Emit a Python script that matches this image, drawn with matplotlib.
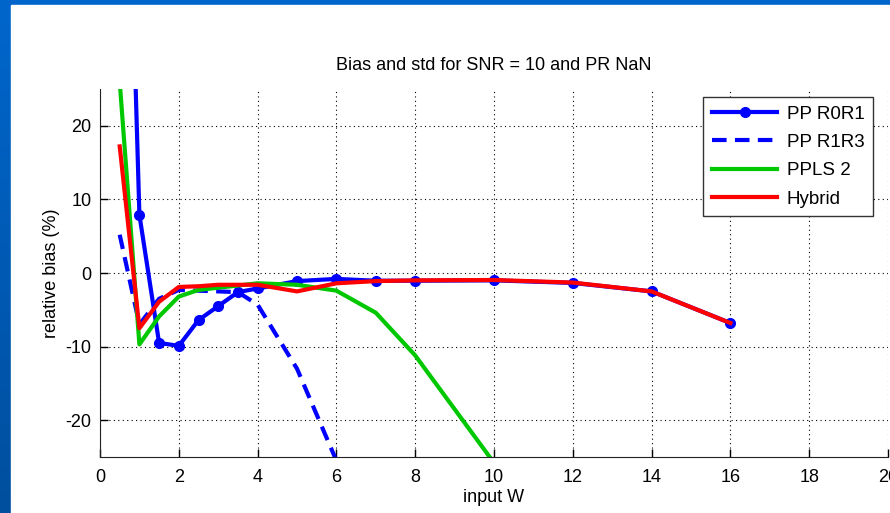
import numpy as np
import matplotlib.pyplot as plt
from matplotlib.patches import Rectangle

plt.rcParams['font.family'] = ['Liberation Sans', 'DejaVu Sans']
plt.rcParams['axes.unicode_minus'] = False

# input W values
w = [0.5, 1, 1.5, 2, 2.5, 3, 3.5, 4, 5, 6, 7, 8, 10, 12, 14, 16]

# relative bias (%) for each method
pp_r0r1 = [99, 7.9, -9.5, -9.9, -6.4, -4.5, -2.6, -2.1, -1.1, -0.8, -1.05, -1.05, -1.0, -1.35, -2.5, -6.8]
pp_r1r3 = [5.2, -7.0, -3.5, -2.3, -2.4, -2.5, -2.6, -4.3, -13.0, -25.5]
ppls2 = [26, -9.7, -5.9, -3.2, -2.3, -2.0, -1.7, -1.4, -1.6, -2.4, -5.4, -11.2, -25.8]
hybrid = [17.2, -7.5, -3.9, -1.9, -1.8, -1.6, -1.6, -1.6, -2.5, -1.4, -1.1, -1.0, -0.95, -1.3, -2.5, -6.8]

fig = plt.figure(figsize=(8.9, 5.13), dpi=100)

# slide background: blue frame with white page
bg = fig.add_axes([0, 0, 1, 1], zorder=-10)
grad = np.linspace(0, 1, 256).reshape(-1, 1)
bg.imshow(grad, aspect='auto', extent=[0, 1, 0, 1],
          cmap=plt.matplotlib.colors.LinearSegmentedColormap.from_list('b', ['#0066cc', '#004f9e']))
bg.add_patch(Rectangle((11 / 890, 0), 1, 1 - 5 / 513, color='white'))
bg.set_xlim(0, 1)
bg.set_ylim(0, 1)
bg.axis('off')

ax = fig.add_axes([100 / 890, 1 - 457 / 513, 788 / 890, 368 / 513])
ax.set_facecolor('white')

ax.plot(w, pp_r0r1, color='#0000ff', lw=3, marker='o', ms=7, label='PP R0R1')
ax.plot(w[:len(pp_r1r3)], pp_r1r3, color='#0000ff', lw=3, ls=(0, (3.5, 2)), label='PP R1R3')
ax.plot(w[:len(ppls2)], ppls2, color='#00c800', lw=3, label='PPLS 2')
ax.plot(w, hybrid, color='#ff0000', lw=3, label='Hybrid')

ax.set_xlim(0, 20)
ax.set_ylim(-25, 25)
ax.set_xticks(range(0, 21, 2))
ax.set_yticks([-20, -10, 0, 10, 20])
ax.grid(True, color='black', ls=(0, (1, 3)), lw=0.8)
ax.tick_params(direction='in', length=6, width=1, labelsize=13, pad=6)
ax.tick_params(axis='x', pad=9)
for s in ['top', 'right']:
    ax.spines[s].set_visible(False)
for s in ['left', 'bottom']:
    ax.spines[s].set_color('#222222')

ax.set_title('Bias and std for SNR = 10 and PR NaN', fontsize=13, pad=14)
ax.set_xlabel('input W', fontsize=13, labelpad=2)
ax.set_ylabel('relative bias (%)', fontsize=13, labelpad=4)

leg = ax.legend(loc='upper right', bbox_to_anchor=(0.981, 0.978), borderaxespad=0,
                fontsize=13.5, handlelength=3.5, handletextpad=0.5,
                labelspacing=0.6, borderpad=0.45,
                fancybox=False, framealpha=1, edgecolor='#333333')
leg.get_frame().set_linewidth(1)

fig.savefig('out.png', dpi=100)
